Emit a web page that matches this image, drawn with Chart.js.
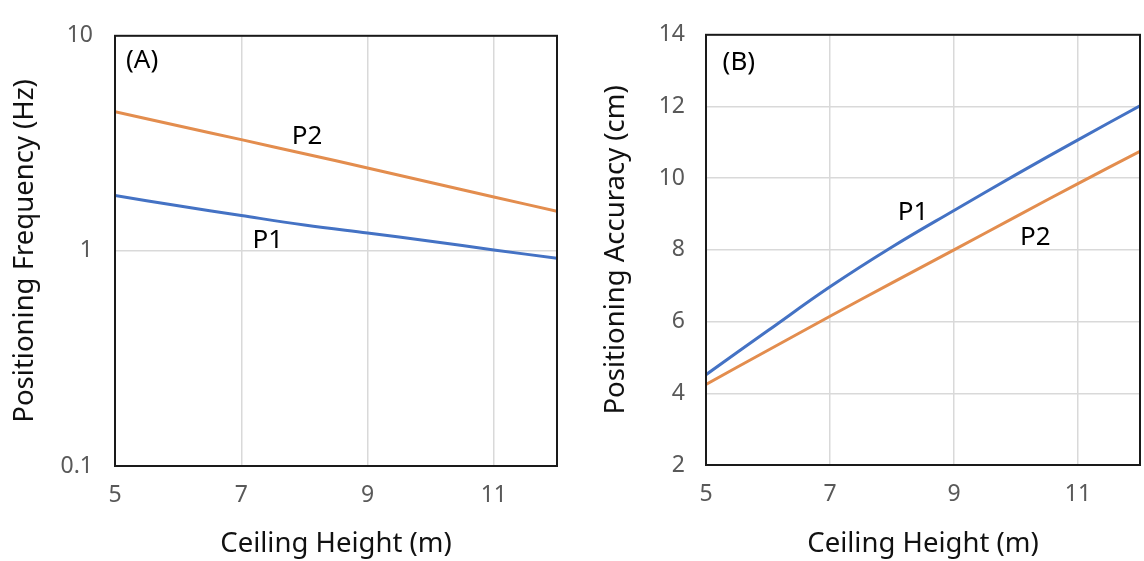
<!DOCTYPE html>
<html lang="en">
<head>
    <meta charset="UTF-8">
    <title>Positioning frequency and accuracy vs ceiling height</title>
    <script src="https://cdn.jsdelivr.net/npm/chart.js"></script>
    <style>
        html, body { margin: 0; padding: 0; background: #fff; }
        .panel { position: absolute; top: 0; height: 561px; }
        #panelA { left: 0; width: 575px; }
        #panelB { left: 575px; width: 569px; }
    </style>
</head>
<body>
    <div class="panel" id="panelA"><canvas id="chartA"></canvas></div>
    <div class="panel" id="panelB"><canvas id="chartB"></canvas></div>
    <script>
        // data
        const heights = [5, 6, 7, 8, 9, 10, 11, 12];
        const freqP1 = [1.81, 1.62, 1.46, 1.32, 1.21, 1.11, 1.01, 0.925];
        const freqP2 = [4.44, 3.82, 3.29, 2.83, 2.43, 2.08, 1.78, 1.53];
        const accP1 = [4.52, 5.75, 6.97, 8.08, 9.10, 10.10, 11.07, 12.02];
        const accP2 = [4.25, 5.20, 6.15, 7.08, 8.00, 8.93, 9.85, 10.75];
        const xTicks = [5, 7, 9, 11];
        const freqTicks = [0.1, 1, 10];
        const accTicks = [2, 4, 6, 8, 10, 12, 14];
        // text notes, placed at their baseline in data units
        const notesA = [{ text: '(A)', x: 5.43, y: 7.1 }, { text: 'P2', x: 8.04, y: 3.15 }, { text: 'P1', x: 7.42, y: 1.035 }];
        const notesB = [{ text: '(B)', x: 5.53, y: 13.03 }, { text: 'P1', x: 8.34, y: 8.84 }, { text: 'P2', x: 10.31, y: 8.13 }];

        const BLUE = '#4472C4', ORANGE = '#E38D4E';
        const FONT = "'Noto Sans', 'DejaVu Sans', sans-serif";

        // frame round the plot area + text notes
        const framePlugin = {
            id: 'frame',
            afterDraw(chart, args, opts) {
                const a = chart.chartArea, ctx = chart.ctx;
                ctx.save();
                ctx.strokeStyle = '#1a1a1a';
                ctx.lineWidth = 2;
                ctx.strokeRect(a.left, a.top, a.right - a.left, a.bottom - a.top);
                ctx.fillStyle = '#000';
                ctx.font = '26px ' + FONT;
                ctx.textAlign = 'center';
                ctx.textBaseline = 'alphabetic';
                (opts.notes || []).forEach(n => {
                    ctx.fillText(n.text, chart.scales.x.getPixelForValue(n.x), chart.scales.y.getPixelForValue(n.y));
                });
                ctx.restore();
            }
        };

        function series(ys) { return heights.map((h, i) => ({ x: h, y: ys[i] })); }

        function makeChart(id, cfg) {
            return new Chart(document.getElementById(id), {
                type: 'line',
                data: {
                    datasets: [
                        { label: 'P1', data: series(cfg.p1), borderColor: BLUE },
                        { label: 'P2', data: series(cfg.p2), borderColor: ORANGE }
                    ]
                },
                options: {
                    responsive: true,
                    maintainAspectRatio: false,
                    animation: false,
                    layout: { padding: { top: cfg.top, right: cfg.right, left: 0, bottom: 0 } },
                    elements: {
                        line: { borderWidth: 3, tension: 0.4, fill: false },
                        point: { radius: 0 }
                    },
                    plugins: { legend: { display: false }, tooltip: { enabled: false }, frame: { notes: cfg.notes } },
                    scales: {
                        x: {
                            type: 'linear', min: 5, max: 12,
                            afterBuildTicks: s => { s.ticks = xTicks.map(v => ({ value: v })); },
                            afterFit: s => { s.height = cfg.xh; },
                            grid: { color: '#d9d9d9', lineWidth: 1.5, drawTicks: false },
                            border: { display: false },
                            ticks: { color: '#595959', font: { family: FONT, size: 23 }, padding: 16 },
                            title: { display: true, text: 'Ceiling Height (m)', color: '#111', font: { family: FONT, size: 27.5 }, padding: { top: 0, bottom: 0 } }
                        },
                        y: {
                            type: cfg.yType, min: cfg.ymin, max: cfg.ymax,
                            afterBuildTicks: s => { s.ticks = cfg.yTicks.map(v => ({ value: v })); },
                            afterFit: s => { s.width = cfg.yw; },
                            grid: { color: '#d9d9d9', lineWidth: 1.5, drawTicks: false },
                            border: { display: false },
                            ticks: { color: '#595959', font: { family: FONT, size: 23 }, padding: cfg.tickPad, callback: v => String(v) },
                            title: { display: true, text: cfg.yTitle, color: '#111', font: { family: FONT, size: 27.5 }, padding: { top: cfg.titlePad, bottom: 0 } }
                        }
                    }
                },
                plugins: [framePlugin]
            });
        }

        makeChart('chartA', {
            p1: freqP1, p2: freqP2, yType: 'logarithmic', ymin: 0.1, ymax: 10, yTicks: freqTicks,
            yTitle: 'Positioning Frequency (Hz)', notes: notesA,
            top: 24, right: 18, yw: 115, xh: 95, tickPad: 22, titlePad: 9
        });
        makeChart('chartB', {
            p1: accP1, p2: accP2, yType: 'linear', ymin: 2, ymax: 14, yTicks: accTicks,
            yTitle: 'Positioning Accuracy (cm)', notes: notesB,
            top: 22, right: 4, yw: 131, xh: 96, tickPad: 21, titlePad: 25
        });
    </script>
</body>
</html>
